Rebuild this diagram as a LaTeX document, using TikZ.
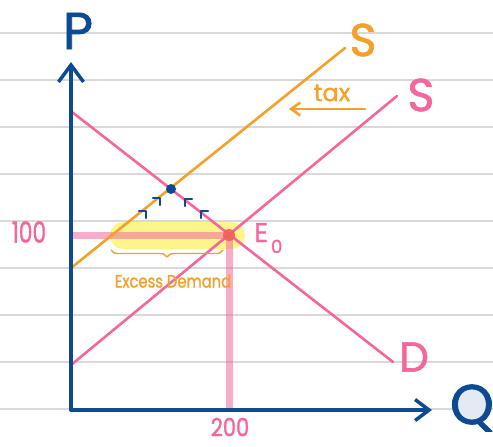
\documentclass[tikz,border=0pt]{standalone}
\usepackage{fontspec}
\usepackage{graphicx}
\newfontfamily\hand{Poppins}[FakeBold=1.4]
\usetikzlibrary{arrows.meta,decorations.pathreplacing}
\definecolor{axisblue}{HTML}{0D4A91}
\definecolor{pinkc}{HTML}{F4679D}
\definecolor{orangec}{HTML}{F5A02A}
\definecolor{rulec}{HTML}{D9D9D9}
\definecolor{hlyellow}{HTML}{FBF58A}
\definecolor{reddot}{HTML}{F06058}
\definecolor{qfill}{HTML}{E3EAF4}
\begin{document}
\begin{tikzpicture}[x=1pt,y=-1pt, line cap=round, line join=round,
  rule/.style={rulec, line width=1.5pt},
  axisline/.style={axisblue, line width=3.5pt},
  curve/.style={line width=2.6pt},
  band/.style={pinkc, line width=7pt, opacity=0.55, line cap=butt},
  lbl/.style={inner sep=0pt, font=\hand},
  chev/.style={axisblue, line width=2.3pt},
]
\useasboundingbox (0,0) rectangle (493,447);
% ruled paper lines
\foreach \k in {0,...,8}{
  \draw[rule] (0,33+47*\k) -- (493,33+47*\k);
}
% coordinates
\coordinate (O) at (71,410);
\coordinate (ytop) at (71,62);
\coordinate (xend) at (432,410);
\coordinate (d1) at (72,112);
\coordinate (d2) at (393,362);
\coordinate (s1) at (71,365);
\coordinate (s2) at (397,96);
\coordinate (t1) at (71,268);
\coordinate (t2) at (345,48);
\coordinate (E) at (229,235);
\coordinate (B) at (171,189);
\coordinate (p100) at (71,235);
\coordinate (q200) at (229,410);
\coordinate (taxa) at (365,109);
\coordinate (taxb) at (289,109);
\coordinate (bra) at (111,250);
\coordinate (brb) at (223,250);
% highlight
\fill[hlyellow, rounded corners=13pt] (110,222) rectangle (245,249);
% thick guide lines
\draw[band] (p100) -- (E);
\draw[band] (E) -- (q200);
% curves
\draw[curve, pinkc] (d1) -- (d2);
\draw[curve, pinkc] (s1) -- (s2);
\draw[curve, orangec] (t1) -- (t2);
% tax arrow
\draw[curve, orangec, -{Straight Barb[length=9pt,width=13pt]}] (taxa) -- (taxb);
% brace
\draw[orangec, line width=1.4pt, decorate, decoration={brace, mirror, amplitude=7pt}] (bra) -- (brb);
% axes
\draw[axisline, -{Straight Barb[length=17pt,width=25pt]}] (O) -- (ytop);
\draw[axisline, -{Straight Barb[length=14pt,width=21pt]}] (O) -- (xend);
% dots
\fill[reddot, opacity=0.9] (E) circle (6pt);
\fill[axisblue] (B) circle (5pt);
% small direction chevrons
\draw[chev] (139,211) -- (146,211) -- (146,218);
\draw[chev] (153,198) -- (160,198) -- (160,205);
\draw[chev] (192,199) -- (185,199) -- (185,206);
\draw[chev] (208,211) -- (201,211) -- (201,218);
% labels
\node[lbl, axisblue, font=\hand\fontsize{52}{52}\selectfont] (P) at (78,31) {P};
\fill[qfill] (470,406) circle (18pt);
\node[lbl, axisblue, font=\hand\fontsize{56}{56}\selectfont] (Q) at (472,408) {Q};
\node[lbl, orangec, font=\hand\fontsize{46}{46}\selectfont] (So) at (363,40) {S};
\node[lbl, pinkc, font=\hand\fontsize{46}{46}\selectfont] (Sp) at (421,95) {S};
\node[lbl, pinkc, font=\hand\fontsize{42}{42}\selectfont] (D) at (414,357) {D};
\node[lbl, orangec, font=\hand\fontsize{24}{24}\selectfont] (tax) at (332,93) {tax};
\node[lbl, pinkc, anchor=base west, font=\hand\fontsize{27}{27}\selectfont] (E0) at (254,242) {E\kern3pt\raisebox{-11pt}{\fontsize{18}{18}\selectfont 0}};
\node[lbl, pinkc, font=\hand\fontsize{29}{29}\selectfont] (n100) at (29,232) {\scalebox{0.75}[1]{100}};
\node[lbl, pinkc, font=\hand\fontsize{25}{25}\selectfont] (n200) at (230,427) {\scalebox{0.84}[1]{200}};
\node[lbl, orangec, font=\hand\fontsize{18}{18}\selectfont] (ED) at (173,281) {\scalebox{0.82}[1]{Excess Demand}};
\end{tikzpicture}
\end{document}
